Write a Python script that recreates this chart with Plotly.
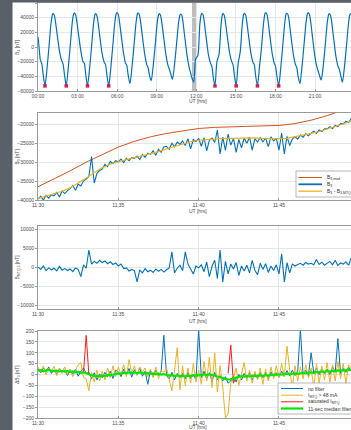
import pandas as pd
import plotly.graph_objects as go

# ---------------- Panel 1: B3 over one day ----------------
p1_hours = [
    0.00, 0.08, 0.18, 0.28, 0.38,
    0.53, 0.68, 0.84, 0.99, 1.09, 1.14, 1.24, 1.44, 1.64, 1.80, 1.90, 2.00,
    2.14, 2.29, 2.45, 2.60, 2.70, 2.75, 2.85, 3.05, 3.25, 3.41, 3.51, 3.61,
    3.75, 3.90, 4.06, 4.21, 4.31, 4.36, 4.46, 4.66, 4.86, 5.02, 5.12, 5.22,
    5.36, 5.51, 5.67, 5.82, 5.92, 5.97, 6.07, 6.27, 6.47, 6.63, 6.73, 6.83,
    6.97, 7.12, 7.28, 7.43, 7.53, 7.58, 7.68, 7.88, 8.08, 8.24, 8.34, 8.44,
    8.58, 8.73, 8.89, 9.04, 9.14, 9.19, 9.29, 9.49, 9.69, 9.85, 9.95, 10.05,
    10.19, 10.34, 10.50, 10.65, 10.75, 10.80, 10.90, 11.10, 11.30, 11.46, 11.56, 11.66,
    11.80, 11.95, 12.11, 12.26, 12.36, 12.41, 12.51, 12.71, 12.91, 13.07, 13.17, 13.27,
    13.41, 13.56, 13.72, 13.87, 13.97, 14.02, 14.12, 14.32, 14.52, 14.68, 14.78, 14.88,
    15.02, 15.17, 15.33, 15.48, 15.58, 15.63, 15.73, 15.93, 16.13, 16.29, 16.39, 16.49,
    16.63, 16.78, 16.94, 17.09, 17.19, 17.24, 17.34, 17.54, 17.74, 17.90, 18.00, 18.10,
    18.24, 18.39, 18.55, 18.70, 18.80, 18.85, 18.95, 19.15, 19.35, 19.51, 19.61, 19.71,
    19.85, 20.00, 20.16, 20.31, 20.41, 20.46, 20.56, 20.76, 20.96, 21.12, 21.22, 21.32,
    21.46, 21.61, 21.77, 21.92, 22.02, 22.07, 22.17, 22.37, 22.57, 22.73, 22.83, 22.93,
    23.07, 23.22, 23.38, 23.53, 23.63, 23.68, 23.78, 23.95,
]
p1_b3 = [
    14000, 0, -18000, -22000, -36000,
    -53000, -30000, 2000, 33000, 44000, 46000, 43000, 19000, -7000, -19000, -23000, -37000,
    -53000, -29000, 3000, 34000, 45000, 46500, 44000, 20000, -6000, -20000, -22000, -36000,
    -53000, -31000, 1000, 32000, 44000, 45500, 43000, 18000, -9000, -21000, -24000, -38000,
    -53000, -30000, 2000, 33000, 45000, 47000, 45000, 21000, -7000, -22000, -25000, -38000,
    -50000, -28000, 3000, 33000, 45000, 46500, 44000, 19000, -9000, -24000, -28000, -38000,
    -46000, -26000, 4000, 34000, 44000, 45500, 43000, 18000, -10000, -25000, -30000, -36000,
    -44000, -25000, 4000, 33000, 43000, 45000, 43000, 17000, -12000, -28000, -35000, -42000,
    -48000, -16000, -12000, 30000, 44000, 46000, 44000, 18000, -10000, -22000, -26000, -40000,
    -53000, -20000, -10000, 30000, 44000, 46000, 43000, 18000, -8000, -20000, -24000, -38000,
    -53000, -22000, -6000, 31000, 44000, 46000, 44000, 19000, -8000, -21000, -24000, -39000,
    -53000, -28000, 0, 32000, 45000, 46500, 45000, 20000, -8000, -22000, -26000, -39000,
    -53000, -30000, 2000, 33000, 45000, 46000, 44000, 18000, -10000, -24000, -28000, -40000,
    -50000, -28000, 3000, 33000, 45000, 46500, 45000, 20000, -10000, -26000, -32000, -38000,
    -45000, -27000, 3000, 33000, 44000, 45500, 43000, 17000, -12000, -26000, -30000, -38000,
    -48000, -28000, 2000, 32000, 44000, 45500, 43000, 30000,
]
p1_sat_hours = [0.53, 2.14, 3.75, 5.36, 13.41, 15.02, 16.63, 18.24]
p1_sat_b3 = [-53000, -53000, -53000, -53000, -53000, -53000, -53000, -53000]
p1_gap = [11.67, 12.05]

# ---------------- Panels 2-4: 11:30 - 11:49:30, 10 s samples ----------------
p2_b3 = [
    -39800, -39000, -40000, -38800, -39500, -38600,
    -38900, -38000, -39200, -37600, -38300, -37500,
    -37000, -36200, -37400, -35800, -36300, -35000,
    -34500, -33800, -28500, -35500, -33000, -32200,
    -31800, -30600, -31200, -29800, -30400, -29600,
    -29900, -29200, -30100, -29000, -29600, -28800,
    -29000, -28400, -29300, -28000, -28700, -27600,
    -27900, -27000, -28200, -26600, -27400, -26000,
    -25800, -26600, -25000, -25900, -24700, -25300,
    -24400, -25600, -23800, -26500, -24000, -24600,
    -23700, -25800, -23500, -27000, -24200, -23600,
    -24800, -21500, -27800, -23400, -26900, -22600,
    -25500, -23700, -27400, -24000, -26200, -23600,
    -25000, -23400, -26800, -23800, -24700, -23500,
    -24600, -23600, -25900, -23300, -24400, -23700,
    -26800, -22300, -27800, -23200, -25600, -23900,
    -23300, -23900, -22800, -23400, -22500, -23000,
    -22300, -21800, -22400, -21500, -21900, -21200,
    -21200, -20600, -21100, -20300, -20600, -19800,
    -19900, -19200, -19500, -18500,
]
# 30 s samples
p2_b3_corr = [
    -39600, -39000, -38500, -37700, -36800, -35600, -34200, -32800, -31500, -30500,
    -29800, -29300, -28800, -28300, -27800, -27200, -26500, -25800, -25100, -24600,
    -24200, -24000, -23800, -23700, -23700, -23600, -23600, -23600, -23700, -23800,
    -23800, -23700, -23300, -22900, -22400, -21900, -21300, -20600, -19900, -19100,
]
# 60 s samples
p2_b_mod = [
    -36500, -34500, -32300, -30000, -28000, -26000, -24500, -23300, -22400, -21700,
    -21100, -20800, -20600, -20500, -20400, -20300, -19800, -18900, -17700, -16200,
]

p3_mtq = [
    0, -600, 300, -900, -200, -700,
    -300, -1000, 200, -800, -400, -900,
    -500, -1200, -200, -600, -2500, 600,
    -300, 4500, 800, 1500, 1000, 1800,
    1200, 1600, 900, 1400, 700, 1100,
    300, 800, -400, -200, -1000, -600,
    -900, -3900, -700, -1500, -400, -1200,
    -800, -1400, -500, -1100, -600, -1300,
    -700, -200, 4000, -1500, -300, 500,
    -900, 4000, 800, -500, -1800, 300,
    -200, 600, -1200, 1300, -2500, 200,
    1800, -3000, 4500, -3900, 1500, -1800,
    800, -500, 1200, -2200, 300, -1000,
    500, -1500, 1800, -800, -2000, 1000,
    -600, 900, -1400, 300, -900, 600,
    -1800, 3500, -3900, 1200, -1500, 800,
    300, 700, 1000, 500, 1200, 800,
    1000, 600, 2000, 700, 1300, 500,
    900, 1500, 600, 1800, 400, 1100,
    800, 1400, 500, 2500,
]

p4_nofilter = [
    25, 8, 30, 12, 35, 5,
    22, 3, 28, 10, 20, -5,
    18, 2, 25, -8, 15, 30,
    5, 10, -20, 8, -25, 2,
    -15, 10, -10, 15, -18, 20,
    12, -10, 25, 0, 28, -12,
    22, 0, 30, -8, 15, -45,
    18, -10, 20, -5, 15, 180,
    -5, -20, 10, -25, 5, -15,
    5, -20, 10, -18, 2, -25,
    210, -15, 15, -20, 8, -30,
    10, -25, -5, -30, -10, -40,
    -30, -10, -35, 0, -25, 5,
    -20, 8, -25, 5, -18, 10,
    -15, 10, -20, 12, -10, 8,
    -12, 15, -8, 18, -5, 20,
    -5, 15, 210, 0, 20, -5,
    100, 5, 30, 0, 25, 5,
    25, 0, 35, 10, 165, 5,
    30, 10, 35, 15,
]
p4_mtq48 = [
    35, 10, 40, 0, 30, 15,
    38, -5, 30, 5, 35, 0,
    25, -10, 20, 45, 55, -15,
    -20, -75, 10, -35, 20, -30,
    15, -25, 30, -15, 40, -10,
    35, 0, 45, -10, 68, 5,
    40, -5, 35, 10, 30, -10,
    25, -15, 35, -20, 20, 10,
    30, -30, -75, 20, 123, -70,
    40, -50, 30, -40, 50, -35,
    20, -45, 60, -30, 80, -60,
    100, -80, 40, -60, -200, -180,
    -40, -20, 30, -50, 10, 55,
    -30, 20, -40, 15, -25, 30,
    -45, 25, -30, 35, -20, 40,
    -15, 50, -10, 130, 20, -60,
    40, -30, 35, -20, 45, -15,
    30, -60, 50, -40, 40, -25,
    55, -35, 45, -30, 60, -20,
    50, -40, 45, 30,
]
p4_sat_times = ["11:32:50", "11:33:00", "11:33:10", "11:37:00",
                "11:41:50", "11:42:00", "11:42:10", "11:42:20"]
p4_sat = [10, 180, 0, None, 5, 135, -40, -10]
p4_median = [
    18, 20, 16, 19, 22, 17,
    15, 18, 14, 16, 13, 15,
    12, 14, 10, 12, 8, 10,
    5, 0, -5, -8, -6, -9,
    -5, -7, -2, -4, 0, 2,
    5, 3, 8, 6, 10, 7,
    9, 6, 10, 7, 4, 6,
    3, 5, 1, 4, 0, 2,
    -2, -5, -3, -7, -4, -8,
    -6, -9, -5, -8, -3, -6,
    -2, -4, 0, -3, 1, -2,
    -4, -8, -12, -16, -20, -23,
    -22, -18, -15, -12, -8, -10,
    -7, -9, -5, -8, -6, -4,
    -6, -3, -5, -1, 0, -2,
    1, -1, 2, 4, 1, 3,
    5, 3, 6, 8, 5, 9,
    10, 8, 12, 10, 14, 12,
    15, 13, 17, 15, 19, 18,
    20, 18, 22, 21,
]

# legend texts
legend_p2 = ["B<sub>3,mod</sub>", "B<sub>3</sub>", "B<sub>3</sub> - B<sub>3,MTQ</sub>"]
legend_p4 = ["no filter", "I<sub>MTQ</sub> &gt; 48 mA", "saturated I<sub>MTQ</sub>",
             "11-sec median filter"]

# ---------------- time axes ----------------
day = pd.Timestamp("2020-01-01")
t1 = day + pd.to_timedelta(p1_hours, unit="h")
t1_sat = day + pd.to_timedelta(p1_sat_hours, unit="h")
gap0 = day + pd.to_timedelta(p1_gap[0], unit="h")
gap1 = day + pd.to_timedelta(p1_gap[1], unit="h")
t10 = pd.date_range("2020-01-01 11:30:00", periods=len(p2_b3), freq="10s")
t30 = pd.date_range("2020-01-01 11:30:00", periods=len(p2_b3_corr), freq="30s")
t60 = pd.date_range("2020-01-01 11:30:00", periods=len(p2_b_mod), freq="60s")
t_sat4 = [pd.Timestamp("2020-01-01 " + s) for s in p4_sat_times]

BLUE = "#0072BD"
ORANGE = "#D95319"
YELLOW = "#EDB120"
RED = "#ff1a1a"
GREEN = "#00e600"

fig = go.Figure()
fig.add_trace(go.Scatter(x=t1, y=p1_b3, mode="lines",
                         line=dict(color=BLUE, width=1.2, shape="spline", smoothing=0.7),
                         xaxis="x", yaxis="y"))
fig.add_trace(go.Scatter(x=t1_sat, y=p1_sat_b3, mode="markers",
                         marker=dict(color="#d81b50", size=3.5, symbol="square"),
                         xaxis="x", yaxis="y"))
fig.add_trace(go.Scatter(x=t60, y=p2_b_mod, mode="lines", line=dict(color=ORANGE, width=1),
                         xaxis="x2", yaxis="y2"))
fig.add_trace(go.Scatter(x=t10, y=p2_b3, mode="lines", line=dict(color=BLUE, width=1.1),
                         xaxis="x2", yaxis="y2"))
fig.add_trace(go.Scatter(x=t30, y=p2_b3_corr, mode="lines", line=dict(color=YELLOW, width=1.2),
                         xaxis="x2", yaxis="y2"))
fig.add_trace(go.Scatter(x=t10, y=p3_mtq, mode="lines", line=dict(color=BLUE, width=1.1),
                         xaxis="x3", yaxis="y3"))
fig.add_trace(go.Scatter(x=t10, y=p4_nofilter, mode="lines", line=dict(color=BLUE, width=1),
                         xaxis="x4", yaxis="y4"))
fig.add_trace(go.Scatter(x=t10, y=p4_mtq48, mode="lines", line=dict(color=YELLOW, width=1),
                         xaxis="x4", yaxis="y4"))
fig.add_trace(go.Scatter(x=t_sat4, y=p4_sat, mode="lines", line=dict(color=RED, width=1),
                         xaxis="x4", yaxis="y4", connectgaps=False))
fig.add_trace(go.Scatter(x=t10, y=p4_median, mode="lines", line=dict(color=GREEN, width=2.2),
                         xaxis="x4", yaxis="y4"))
fig.update_traces(showlegend=False)

GRID = "#e6e6e6"
AX = "#9a9a9a"
TXT = "#4a4a4a"
TF = dict(size=5, color=TXT)

BOTTOM = 418  # pixel row of the lowest x axis


def fx(px):
    return (px - 38) / 313


def fy(py):
    return (BOTTOM - py) / (BOTTOM - 3)


def xa(anchor, rng, dtick):
    return dict(type="date", range=rng, dtick=dtick, tickformat="%H:%M",
                anchor=anchor, domain=[0, 1], showgrid=True, gridcolor=GRID,
                gridwidth=0.6, showline=True, linecolor=AX, linewidth=0.8, mirror=True,
                ticks="inside", ticklen=2, tickcolor=AX, tickfont=TF, zeroline=False)


def ya(domain, rng, tickvals, anchor):
    return dict(domain=domain, range=rng, tickvals=tickvals, tickformat="d",
                anchor=anchor, showgrid=True, gridcolor=GRID, gridwidth=0.6,
                showline=True, linecolor=AX, linewidth=0.8, mirror=False,
                ticks="outside", ticklen=2, tickcolor=AX, tickfont=TF, zeroline=False)


d1 = [fy(91), 1.0]
d2 = [fy(200), fy(113)]
d3 = [fy(309), fy(226)]
d4 = [0.0, fy(331)]
rng_day = [day, day + pd.to_timedelta(23.72, unit="h")]
rng_min = ["2020-01-01 11:30:00", "2020-01-01 11:49:29"]

shapes = [
    dict(type="rect", xref="x", yref="y domain", x0=gap0, x1=gap1, y0=0, y1=1,
         fillcolor="#bdbdbd", line=dict(width=0), layer="below"),
    dict(type="rect", xref="paper", yref="paper", x0=fx(-2), x1=fx(12.5),
         y0=fy(432), y1=fy(-2), fillcolor="#5a6069", line=dict(width=0)),
    dict(type="rect", xref="paper", yref="paper", x0=fx(-2), x1=fx(355),
         y0=fy(2.4), y1=fy(-2), fillcolor="#5a6069", line=dict(width=0)),
]
annotations = []

# y axis titles
for text, yc in [("B<sub>3</sub> [nT]", 47), ("B<sub>3</sub> [nT]", 156.5),
                 ("B<sub>MTQ,3</sub> [nT]", 267.5), ("ΔB<sub>3</sub> [nT]", 375)]:
    annotations.append(dict(xref="paper", yref="paper", x=fx(17), y=fy(yc), text=text,
                            textangle=-90, showarrow=False, xanchor="center",
                            yanchor="middle", font=dict(size=5, color=TXT)))
# x axis titles
for yc in [100.5, 210.5, 320.5, 427.5]:
    annotations.append(dict(xref="paper", yref="paper", x=fx(197.5), y=fy(yc),
                            text="UT [hrs]", showarrow=False, xanchor="center",
                            yanchor="middle", font=dict(size=5, color=TXT)))

# legend for panel 2
shapes.append(dict(type="rect", xref="paper", yref="paper", x0=fx(296), x1=fx(360),
                   y0=fy(197), y1=fy(171), fillcolor="white",
                   line=dict(color="#9a9a9a", width=0.7)))
for text, col, w, yc in zip(legend_p2, [ORANGE, BLUE, YELLOW], [1, 1.8, 1.3],
                            [177.5, 184.3, 191.2]):
    shapes.append(dict(type="line", xref="paper", yref="paper", x0=fx(298.5), x1=fx(322),
                       y0=fy(yc), y1=fy(yc), line=dict(color=col, width=w)))
    annotations.append(dict(xref="paper", yref="paper", x=fx(325), y=fy(yc), text=text,
                            showarrow=False, xanchor="left", yanchor="middle",
                            font=dict(size=5, color="#333333")))

# legend for panel 4
shapes.append(dict(type="rect", xref="paper", yref="paper", x0=fx(278), x1=fx(360),
                   y0=fy(414), y1=fy(383), fillcolor="white",
                   line=dict(color="#9a9a9a", width=0.7)))
for text, col, w, yc in zip(legend_p4, [BLUE, YELLOW, RED, GREEN], [1, 1, 1, 2.2],
                            [388.5, 395.2, 401.8, 408.5]):
    shapes.append(dict(type="line", xref="paper", yref="paper", x0=fx(281), x1=fx(303),
                       y0=fy(yc), y1=fy(yc), line=dict(color=col, width=w)))
    annotations.append(dict(xref="paper", yref="paper", x=fx(306), y=fy(yc), text=text,
                            showarrow=False, xanchor="left", yanchor="middle",
                            font=dict(size=5, color="#333333")))

fig.update_layout(
    width=351, height=430, autosize=False,
    margin=dict(l=38, r=0, t=3, b=430 - BOTTOM),
    paper_bgcolor="white", plot_bgcolor="white",
    font=dict(family="Liberation Sans, Arial, sans-serif", size=5, color=TXT),
    showlegend=False,
    xaxis=xa("y", rng_day, 3 * 3600 * 1000),
    yaxis=ya(d1, [-60000, 60000], [-60000, -40000, -20000, 0, 20000, 40000, 60000], "x"),
    xaxis2=xa("y2", rng_min, 5 * 60 * 1000),
    yaxis2=ya(d2, [-40000, -17000], [-40000, -35000, -30000, -25000, -20000], "x2"),
    xaxis3=xa("y3", rng_min, 5 * 60 * 1000),
    yaxis3=ya(d3, [-11000, 10800], [-10000, -5000, 0, 5000, 10000], "x3"),
    xaxis4=xa("y4", rng_min, 5 * 60 * 1000),
    yaxis4=ya(d4, [-200, 200], [-200, -150, -100, -50, 0, 50, 100, 150, 200], "x4"),
    shapes=shapes,
    annotations=annotations,
)

fig.write_html(
    "out.html",
    config={"displayModeBar": False},
    post_script="document.body.style.margin='0';document.body.style.overflow='hidden';",
)
